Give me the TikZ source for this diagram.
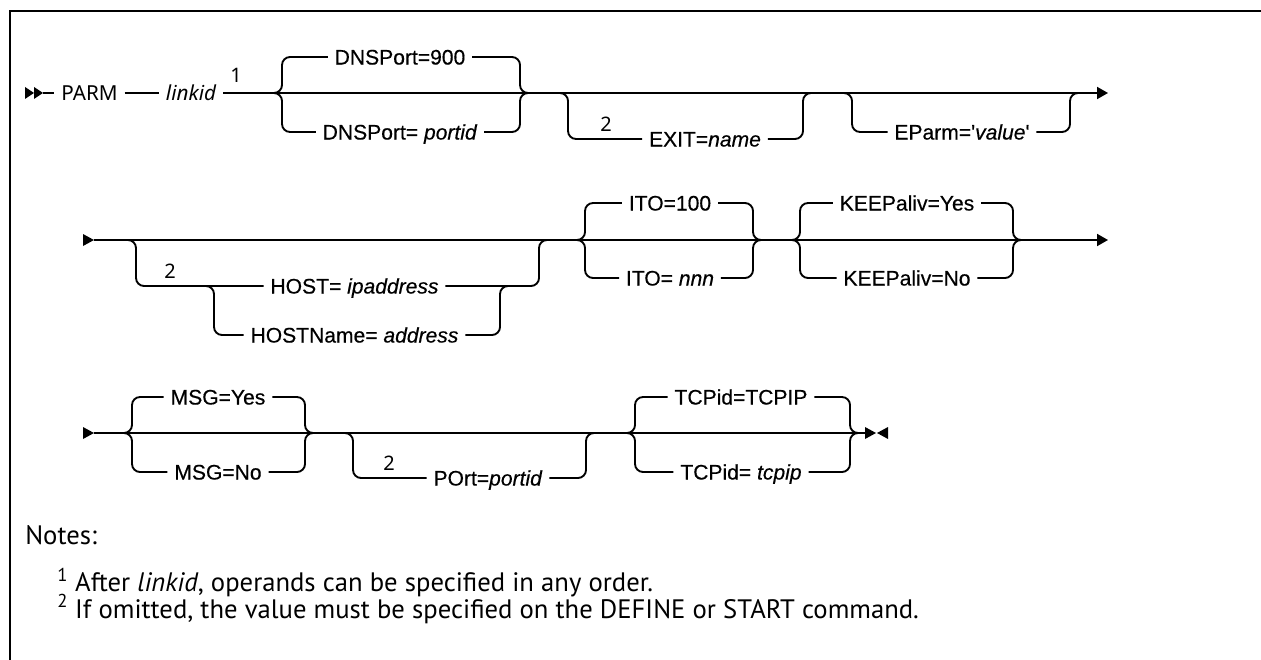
\documentclass[tikz,border=0pt]{standalone}
\usepackage{fontspec}
\setmainfont{Liberation Sans}
\newfontfamily\railfont{Liberation Sans}[FakeBold=0.4]
\newfontfamily\plexfont{Noto Sans}
\newfontfamily\notefont{PT Sans}
\newfontfamily\qfont{Liberation Sans}[Ligatures=TeXOff,FakeBold=0.4]
\usepackage{tikz}
\usetikzlibrary{positioning,arrows.meta,calc}

% half brackets: from the label to the bracket, then into the main line
\newcommand{\railin}[3]{\draw[rail] (#1.west) -| (#2,#3) -- ++(-8,0);}
\newcommand{\railout}[3]{\draw[rail] (#1.east) -| (#2,#3) -- ++(8,0);}

\tikzset{
  rail/.style={line width=1.4pt,rounded corners=6pt},
  item/.style={font=\railfont\fontsize{15.8}{18}\selectfont,inner xsep=5pt,inner ysep=0pt,
    text height=11.3pt,text depth=0pt},
  head/.style={font=\plexfont\fontsize{15.5}{18}\selectfont,inner xsep=5pt,inner ysep=0pt,
    text height=11pt,text depth=0pt},
  fn/.style={font=\plexfont\fontsize{15}{16}\selectfont,inner sep=0pt},
  note/.style={font=\notefont\fontsize{20}{24}\selectfont,anchor=west,inner sep=0pt},
  tip/.style={-{Triangle[length=8.25pt,width=9pt]}}
}

\begin{document}
\begin{tikzpicture}[x=0.75pt,y=-0.75pt]
  \useasboundingbox (0,0) rectangle (1261,660);
  \draw[line width=1.9pt] (10,660) -- (10,11) -- (1261,11);

  % first line
  \fill (25,87) -- (34,93) -- (25,99) -- cycle;
  \fill (34,87) -- (43,93) -- (34,99) -- cycle;
  \coordinate (r1s) at (43,93);
  \coordinate (r1e) at (1108,93);
  \node[head] (parm) at (89.5,93) {PARM};
  \node[head] (linkid) at (191,93) {\itshape linkid};
  \node[fn] (fn1) at (236,75) {1};
  \draw[rail] (r1s) -- (parm);
  \draw[rail] (parm) -- (linkid);
  \draw[rail,tip] (linkid) -- (r1e);

  \node[item] (dnsa) at (400,57) {DNSPort=900};
  \node[item] (dnsb) at (400,132) {DNSPort= \textit{portid}};
  \railin{dnsa}{282}{93} \railin{dnsb}{282}{93}
  \railout{dnsa}{520}{93} \railout{dnsb}{520}{93}

  \node[item] (exit) at (705,139) {EXIT=\textit{name}};
  \node[fn] (fn2a) at (606,124) {2};
  \railin{exit}{568}{93} \railout{exit}{803}{93}

  \node[item] (eparm) at (962,132) {EParm={\qfont'}\textit{value}{\qfont'}};
  \railin{eparm}{852}{93} \railout{eparm}{1070}{93}

  % second line
  \fill (83,234) -- (94,240) -- (83,246) -- cycle;
  \coordinate (r2s) at (94,240);
  \coordinate (r2e) at (1108,240);
  \draw[rail,tip] (r2s) -- (r2e);

  \node[item] (hosta) at (354.5,286) {HOST= \textit{ipaddress}};
  \node[item] (hostb) at (354.5,335) {HOSTName= \textit{address}};
  \node[fn] (fn2b) at (170,271) {2};
  \railin{hosta}{136}{240} \railout{hosta}{539}{240}
  \railin{hostb}{214}{286} \railout{hostb}{500}{286}

  \node[item] (itoa) at (670,203) {ITO=100};
  \node[item] (itob) at (670,278) {ITO= \textit{nnn}};
  \railin{itoa}{585}{240} \railin{itob}{585}{240}
  \railout{itoa}{753}{240} \railout{itob}{753}{240}

  \node[item] (keepa) at (907,203) {KEEPaliv=Yes};
  \node[item] (keepb) at (907,278) {KEEPaliv=No};
  \railin{keepa}{800}{240} \railin{keepb}{800}{240}
  \railout{keepa}{1013}{240} \railout{keepb}{1013}{240}

  % third line
  \fill (83,427) -- (94,433) -- (83,439) -- cycle;
  \coordinate (r3s) at (94,433);
  \coordinate (r3e) at (865,433);
  \draw[rail] (r3s) -- (r3e);
  \fill (865,427) -- (876,433) -- (865,439) -- cycle;
  \fill (888,427) -- (877,433) -- (888,439) -- cycle;

  \node[item] (msga) at (218,397) {MSG=Yes};
  \node[item] (msgb) at (218,472) {MSG=No};
  \railin{msga}{132}{433} \railin{msgb}{132}{433}
  \railout{msga}{305}{433} \railout{msgb}{305}{433}

  \node[item] (port) at (488,478) {POrt=\textit{portid}};
  \node[fn] (fn2c) at (389,463) {2};
  \railin{port}{353}{433} \railout{port}{586}{433}

  \node[item] (tcpa) at (741,397) {TCPid=TCPIP};
  \node[item] (tcpb) at (741,472) {TCPid= \textit{tcpip}};
  \railin{tcpa}{635}{433} \railin{tcpb}{635}{433}
  \railout{tcpa}{850}{433} \railout{tcpb}{850}{433}

  % notes
  \node[note] (notes) at (25,535) {Notes:};
  \node[note] (note1) at (57,583) {\textsuperscript{1} After \textit{linkid}, operands can be specified in any order.};
  \node[note] (note2) at (57,609) {\textsuperscript{2} If omitted, the value must be specified on the DEFINE or START command.};
\end{tikzpicture}
\end{document}
